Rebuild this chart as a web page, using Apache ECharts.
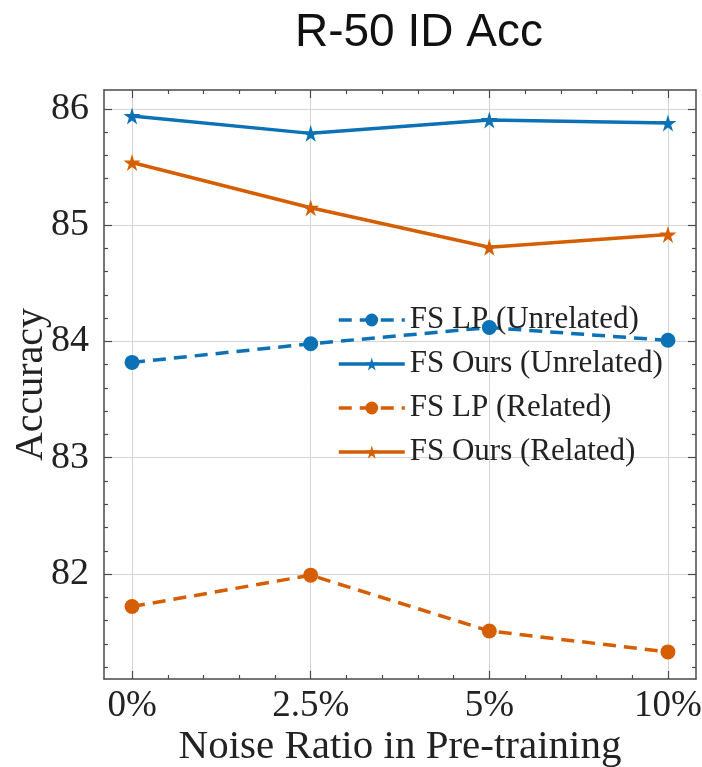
<!DOCTYPE html>
<html>
<head>
<meta charset="utf-8">
<script src="https://cdn.jsdelivr.net/npm/echarts@6/dist/echarts.min.js"></script>
<style>html,body{margin:0;padding:0;background:#fff;}#c{width:702px;height:767px;}</style>
</head>
<body>
<div id="c"></div>
<script>
const titleText = 'R-50 ID Acc';
const categories = ['0%', '2.5%', '5%', '10%'];
const yTicks = [82, 83, 84, 85, 86];
const lpUnrelated = [83.82, 83.98, 84.12, 84.01];
const oursUnrelated = [85.94, 85.79, 85.905, 85.88];
const lpRelated = [81.72, 81.99, 81.51, 81.33];
const oursRelated = [85.54, 85.15, 84.81, 84.92];
const seriesNames = ['FS LP (Unrelated)', 'FS Ours (Unrelated)', 'FS LP (Related)', 'FS Ours (Related)'];

const BLUE = '#0C72B5', ORANGE = '#D55E00';
const SERIF = '"Liberation Serif", "DejaVu Serif", serif';
const xMin = -0.157, xMax = 3.157, yMin = 81.097, yMax = 86.163;

const xMajor = categories.map((_, i) => i);
const xMinor = [];
for (let i = 0; i < categories.length - 1; i++) for (let k = 1; k < 5; k++) xMinor.push(+(i + k * 0.2).toFixed(2));
const yMinor = [];
for (let v = 81; v < 86.2; v += 0.2) { const r = +v.toFixed(2); if (r > yMin && r < yMax && Math.abs(r - Math.round(r)) > 1e-6) yMinor.push(r); }

const axisLineStyle = { color: '#4a4a4a', width: 1.5 };
function xAx(pos, major, withLabels) {
  return {
    type: 'value', position: pos, min: xMin, max: xMax,
    axisLine: { show: major, onZero: false, lineStyle: axisLineStyle },
    axisTick: { show: true, inside: true, length: major ? 8 : 4, customValues: major ? xMajor : xMinor, lineStyle: { color: '#4a4a4a', width: 1.2 } },
    axisLabel: withLabels ? { show: true, customValues: xMajor, formatter: v => categories[Math.round(v)], fontFamily: SERIF, fontSize: 37, color: '#222', margin: 9 } : { show: false },
    splitLine: { show: withLabels, lineStyle: { color: '#d4d4d4', width: 1 } },
    name: withLabels ? 'Noise Ratio in Pre-training' : '',
    nameLocation: 'middle', nameGap: 48, nameMoveOverlap: false,
    nameTextStyle: { fontFamily: SERIF, fontSize: 41, color: '#222' }
  };
}
function yAx(pos, major, withLabels) {
  return {
    type: 'value', position: pos, min: yMin, max: yMax,
    axisLine: { show: major, onZero: false, lineStyle: axisLineStyle },
    axisTick: { show: true, inside: true, length: major ? 8 : 4, customValues: major ? yTicks : yMinor, lineStyle: { color: '#4a4a4a', width: 1.2 } },
    axisLabel: withLabels ? { show: true, customValues: yTicks, fontFamily: SERIF, fontSize: 38, color: '#222', margin: 15 } : { show: false },
    splitLine: { show: withLabels, lineStyle: { color: '#d4d4d4', width: 1 } },
    name: withLabels ? 'Accuracy' : '',
    nameLocation: 'middle', nameGap: 53, nameMoveOverlap: false,
    nameTextStyle: { fontFamily: SERIF, fontSize: 40, color: '#222' }
  };
}

function pts(arr) { return arr.map((v, i) => [i, v]); }
function mk(name, data, color, dashed, symbol) {
  return {
    name, type: 'line', data: pts(data), xAxisIndex: 0, yAxisIndex: 0,
    symbol: symbol, symbolSize: symbol === 'circle' ? 15 : 17,
    lineStyle: { color, width: 3.5, type: dashed ? [13, 8] : 'solid' },
    itemStyle: { color },
    emphasis: { disabled: true }, animation: false
  };
}
const starPath = 'path://M50,0 L61,35 L98,35 L68,57 L79,91 L50,70 L21,91 L32,57 L2,35 L39,35 Z';

const chart = echarts.init(document.getElementById('c'), null, { renderer: 'canvas' });
chart.setOption({
  animation: false,
  title: { text: titleText, left: 290, top: 5, textStyle: { fontFamily: '"Liberation Sans", Arial, sans-serif', fontSize: 46, fontWeight: 'normal', color: '#111' } },
  grid: { left: 104, right: 6, top: 90, bottom: 88, containLabel: false, outerBoundsMode: 'none' },
  xAxis: [xAx('bottom', true, true), xAx('bottom', false, false), xAx('top', true, false), xAx('top', false, false)],
  yAxis: [yAx('left', true, true), yAx('left', false, false), yAx('right', true, false), yAx('right', false, false)],
  legend: {
    orient: 'vertical', left: 332, top: 298, itemWidth: 66, itemHeight: 16, itemGap: 10,
    data: seriesNames,
    lineStyle: { width: 3.5 },
    textStyle: { fontFamily: SERIF, fontSize: 31, color: '#222', lineHeight: 34 },
    backgroundColor: 'transparent'
  },
  series: [
    mk(seriesNames[0], lpUnrelated, BLUE, true, 'circle'),
    mk(seriesNames[1], oursUnrelated, BLUE, false, starPath),
    mk(seriesNames[2], lpRelated, ORANGE, true, 'circle'),
    mk(seriesNames[3], oursRelated, ORANGE, false, starPath)
  ]
});
</script>
</body>
</html>
